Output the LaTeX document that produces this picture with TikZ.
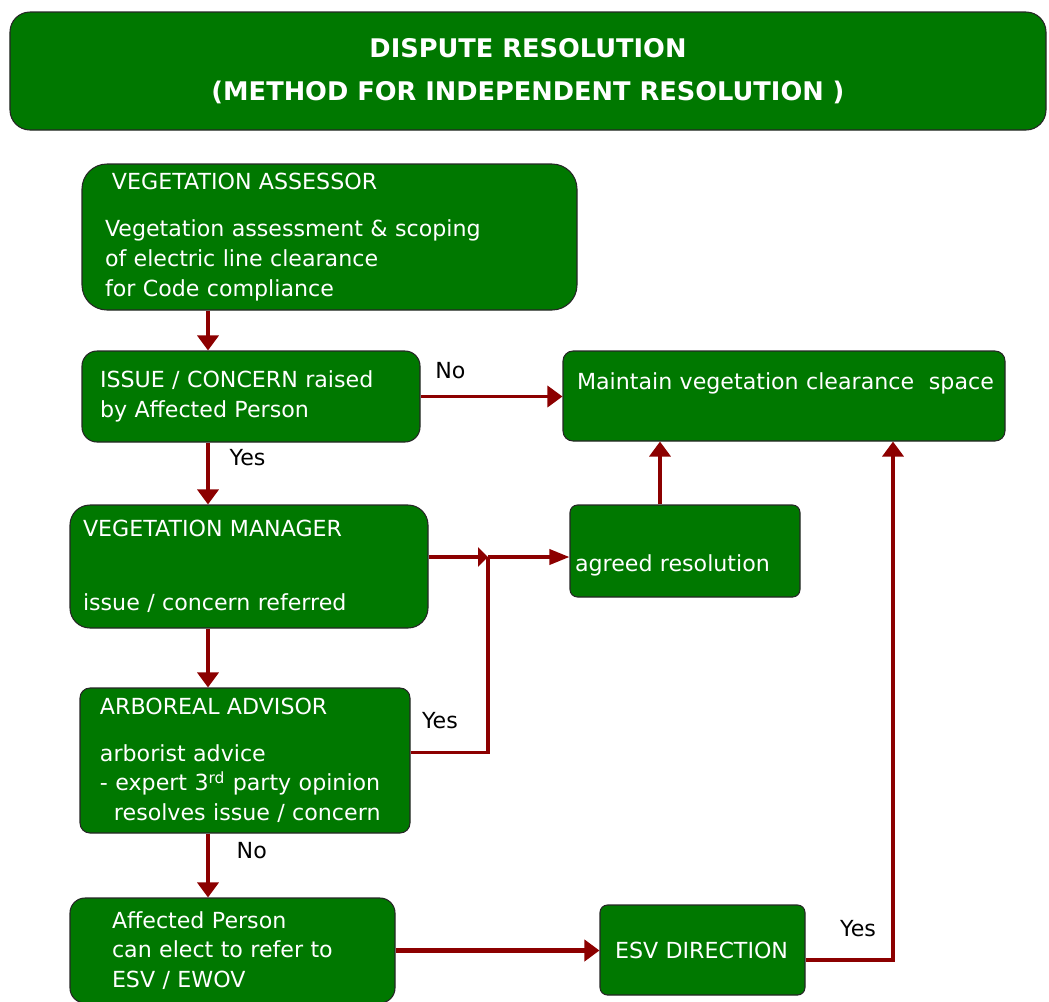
\documentclass[tikz,border=0pt]{standalone}
\usepackage{fontspec}
\setmainfont{DejaVu Sans}
\usepackage{tikz}
\usetikzlibrary{arrows.meta}
\definecolor{boxgreen}{RGB}{0,120,0}
\definecolor{flowred}{RGB}{140,0,0}

\begin{document}
\begin{tikzpicture}[>={Triangle[length=3mm, width=4.2mm]},
    box/.style={draw=black!85, line width=0.6pt, fill=boxgreen, text=white, rounded corners=0.3cm, align=left, font=\fontsize{12.6}{17}\selectfont},
    flow/.style={draw=flowred, line width=2pt},
    tag/.style={font=\fontsize{12.6}{17}\selectfont, text=black}]
        \useasboundingbox (0,0) rectangle (20.98,-20.02);

        % Title
        \node (title) at (10.56,-1.42) [box, align=center, rounded corners=0.4cm, minimum width=20.72cm, minimum height=2.36cm, font=\fontsize{14.6}{24.4}\selectfont\bfseries] {DISPUTE RESOLUTION\\(METHOD FOR INDEPENDENT RESOLUTION )};

        % Boxes down the left side
        \node (ass) at (6.59,-4.74) [box, rounded corners=0.5cm, text width=8.98cm, inner xsep=0.46cm, minimum height=2.92cm] {\hspace*{0.14cm}VEGETATION ASSESSOR\\[9.5pt]Vegetation assessment \& scoping\\of electric line clearance\\for Code compliance};
        \node (iss) at (5.02,-7.93) [box, text width=6.04cm, inner xsep=0.36cm, minimum height=1.82cm] {ISSUE / CONCERN raised\\by Affected Person};
        \node (man) at (4.98,-11.33) [box, rounded corners=0.4cm, text width=6.64cm, inner xsep=0.26cm, minimum height=2.46cm] {VEGETATION MANAGER\\[25pt]issue / concern referred};
        \node (arb) at (4.9,-15.21) [box, rounded corners=0.2cm, text width=5.8cm, inner xsep=0.4cm, minimum height=2.9cm] {ARBOREAL ADVISOR\\[9.5pt]arborist advice\\- expert 3\textsuperscript{rd} party opinion\\\hspace*{0.28cm}resolves issue / concern};
        \node (aff) at (4.65,-19.01) [box, text width=4.82cm, inner xsep=0.84cm, minimum height=2.1cm] {Affected Person\\can elect to refer to\\ESV / EWOV};

        % Boxes on the right
        \node (maint) at (15.68,-7.92) [box, rounded corners=0.2cm, text width=8.28cm, inner xsep=0.28cm, minimum height=1.8cm] {\mbox{Maintain vegetation clearance\ \ space}\\\mbox{}};
        \node (agr) at (13.7,-11.02) [box, rounded corners=0.15cm, text width=4.4cm, inner xsep=0.1cm, minimum height=1.84cm] {\mbox{}\\[9pt]agreed resolution};
        \node (esv) at (14.05,-19.0) [box, rounded corners=0.15cm, text width=3.5cm, inner xsep=0.3cm, minimum height=1.8cm] {ESV DIRECTION};

        % Helper points
        \coordinate (col) at (4.16,0);
        \coordinate (j) at (9.76,-11.14);
        \coordinate (up) at (17.86,0);

        % Arrows down the left side
        \draw[flow, ->] (ass.south -| col) -- (iss.north -| col);
        \draw[flow, ->] (iss.south -| col) -- (man.north -| col) node[pos=0.25, right=8pt, tag] {Yes};
        \draw[flow, ->] (man.south -| col) -- (arb.north -| col);
        \draw[flow, ->] (arb.south -| col) -- (aff.north -| col) node[pos=0.26, right=12pt, tag] {No};

        % Arrows across
        \draw[flow, ->] (iss.east) -- (maint.west |- iss.east) node[pos=0.21, above=6pt, tag] {No};
        \draw[flow, -{Triangle[length=2mm, width=3.8mm]}] (man.east |- j) -- (j);
        \draw[flow, -{Triangle[length=4mm, width=3mm]}] (j) -- (agr.west |- j);
        \draw[flow] ([yshift=0.16cm]arb.east) -| (j) node[pos=0.19, above=9pt, tag] {Yes};
        \draw[flow, ->] ([xshift=-0.5cm]agr.north) -- ([xshift=-0.5cm]agr.north |- maint.south);
        \draw[flow, ->, line width=2.6pt] (aff.east) -- (esv.west |- aff.east);
        \draw[flow, ->] ([yshift=-0.2cm]esv.east) -| (maint.south -| up) node[pos=0.3, above=9pt, tag] {Yes};

    \end{tikzpicture}
\end{document}
